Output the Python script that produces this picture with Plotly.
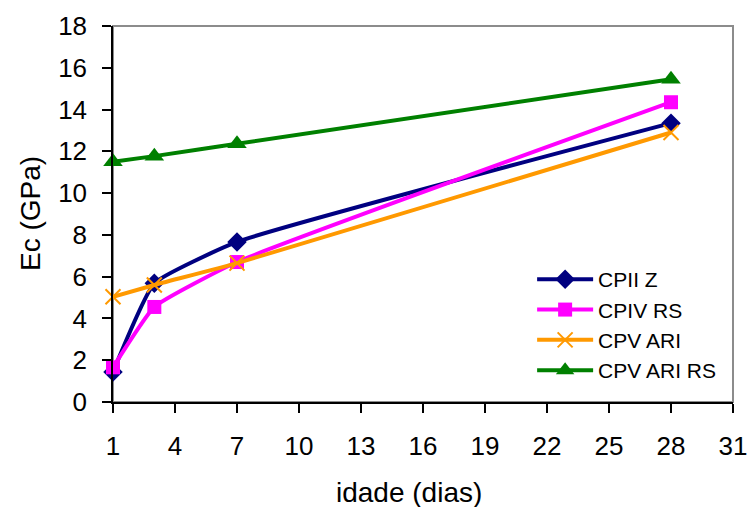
import plotly.graph_objects as go

idade = [1, 3, 7, 28]
cpii_z = [1.44, 5.68, 7.66, 13.35]
cpiv_rs = [1.66, 4.55, 6.7, 14.35]
cpv_ari = [5.04, 5.6, 6.65, 12.9]
cpv_ari_rs = [11.5, 11.77, 12.36, 15.45]

x_ticks = [1, 4, 7, 10, 13, 16, 19, 22, 25, 28, 31]
y_ticks = [0, 2, 4, 6, 8, 10, 12, 14, 16, 18]

series = [
    ("CPII Z", cpii_z, "#000080", dict(symbol="diamond", size=15, color="#000080")),
    ("CPIV RS", cpiv_rs, "#FF00FF", dict(symbol="square", size=14, color="#FF00FF")),
    ("CPV ARI", cpv_ari, "#FF9900", dict(symbol="x-thin-open", size=15, color="#FF9900", line=dict(width=2, color="#FF9900"))),
    ("CPV ARI RS", cpv_ari_rs, "#008000", dict(symbol="triangle-up", size=17, color="#008000")),
]

fig = go.Figure()
for name, vals, col, mk in series:
    fig.add_trace(go.Scatter(
        x=idade, y=vals, name=name, mode="lines+markers",
        line=dict(color=col, width=4, shape="spline", smoothing=0.4),
        marker=mk, cliponaxis=False,
    ))

fig.update_layout(
    width=747, height=507,
    margin=dict(l=113, r=14, t=26, b=105, autoexpand=False),
    paper_bgcolor="white", plot_bgcolor="white",
    font=dict(family="Liberation Sans, Arial, sans-serif", color="black"),
    showlegend=True,
    legend=dict(x=0.676, y=0.38, xanchor="left", yanchor="top",
                font=dict(size=21), itemwidth=56, tracegroupgap=0,
                bgcolor="rgba(0,0,0,0)"),
    shapes=[dict(type="rect", xref="paper", yref="paper", x0=0, x1=1, y0=0, y1=1,
                 line=dict(color="#8c8c8c", width=2), layer="below")],
    annotations=[
        dict(text="idade (dias)", xref="paper", yref="paper", x=(408.7 - 113) / 620, y=-0.242,
             xanchor="center", yanchor="middle", showarrow=False, font=dict(size=28)),
        dict(text="Ec (GPa)", xref="paper", yref="paper", x=(30 - 113) / 620, y=0.5,
             xanchor="center", yanchor="middle", textangle=-90, showarrow=False, font=dict(size=28)),
    ],
)
fig.update_xaxes(range=[1, 31], tickvals=x_ticks, ticks="outside", ticklen=9, tickwidth=1.5,
                 tickcolor="black", showline=True, linecolor="black", linewidth=1.5,
                 showgrid=False, zeroline=False, tickfont=dict(size=26), ticklabelstandoff=11,
                 ticklabeloverflow="allow", automargin=False)
fig.update_yaxes(range=[0, 18], tickvals=y_ticks, ticks="outside", ticklen=9, tickwidth=1.5,
                 tickcolor="black", showline=True, linecolor="black", linewidth=1.5,
                 showgrid=False, zeroline=False, tickfont=dict(size=26), ticklabelstandoff=10,
                 ticklabeloverflow="allow", automargin=False)

fig.write_html("out.html", config={"displayModeBar": False},
               post_script="document.body.style.margin='0px';document.body.style.overflow='hidden';")
